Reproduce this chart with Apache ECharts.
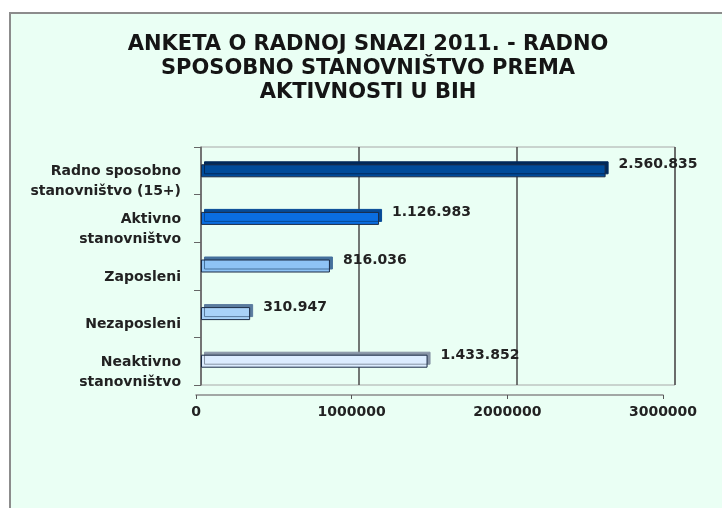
<!DOCTYPE html>
<html>
<head>
<meta charset="utf-8">
<script src="https://cdn.jsdelivr.net/npm/echarts@6/dist/echarts.min.js"></script>
<style>
  html, body { margin: 0; padding: 0; background: #fff; width: 722px; height: 508px; overflow: hidden; position: relative; }
  #frame {
    position: absolute; left: 9px; top: 12px; right: -20px; bottom: -20px;
    background: #eafff4; border-left: 2px solid #8c8c8c; border-top: 2px solid #8c8c8c;
  }
  #chart { position: absolute; left: 0; top: 0; width: 722px; height: 508px; }
</style>
</head>
<body>
<div id="frame"></div>
<div id="chart"></div>
<script>
// podaci
const categories = [
  'Radno sposobno\nstanovništvo (15+)',
  'Aktivno\nstanovništvo',
  'Zaposleni',
  'Nezaposleni',
  'Neaktivno\nstanovništvo'
];
const values = [2560835, 1126983, 816036, 310947, 1433852];
const barColors = ['#004b9a', '#0a6de0', '#8ec3f5', '#a9d2f8', '#dcecff'];
const topColors = ['#00295a', '#064a96', '#45719c', '#5a7b9e', '#8794a6'];
const xTicks = [0, 1000000, 2000000, 3000000];

const fmt = v => String(v).replace(/\B(?=(\d{3})+(?!\d))/g, '.');
const labelFont = { fontFamily: 'DejaVu Sans', fontWeight: 'bold', color: '#222' };

const chart = echarts.init(document.getElementById('chart'));
chart.setOption({
  backgroundColor: 'transparent',
  title: {
    text: 'ANKETA O RADNOJ SNAZI 2011. - RADNO\nSPOSOBNO STANOVNIŠTVO PREMA\nAKTIVNOSTI U BIH',
    left: 368,
    textAlign: 'center',
    top: 28,
    padding: [5, 0, 5, 0],
    textStyle: {
      fontFamily: 'DejaVu Sans', fontWeight: 'bold', fontSize: 21,
      lineHeight: 24, color: '#151515'
    }
  },
  grid: [
    { left: 201, right: 47, top: 147, bottom: 123, show: true,
      borderColor: '#a8a8a8', borderWidth: 1, backgroundColor: 'transparent' },
    { left: 196, right: 59, top: 394, height: 1 }
  ],
  xAxis: [
    {
      gridIndex: 0, type: 'value', min: xTicks[0], max: xTicks[xTicks.length - 1],
      interval: 1000000,
      axisLabel: { show: false }, axisTick: { show: false },
      axisLine: { show: false },
      splitLine: { show: true, lineStyle: { color: '#4a4a4a', width: 1.5 } }
    },
    {
      gridIndex: 1, type: 'value', min: xTicks[0], max: xTicks[xTicks.length - 1],
      interval: 1000000, position: 'bottom',
      axisLine: { show: true, lineStyle: { color: '#8a8a8a', width: 1.5 } },
      axisTick: { show: true, length: 4, lineStyle: { color: '#555' } },
      splitLine: { show: false },
      axisLabel: { ...labelFont, fontSize: 14, margin: 10, formatter: v => String(v) }
    }
  ],
  yAxis: [
    {
      gridIndex: 0, type: 'category', data: categories, inverse: true,
      axisLine: { show: true, lineStyle: { color: '#777', width: 1.5 } },
      axisTick: { show: true, length: 7, lineStyle: { color: '#666' } },
      axisLabel: {
        ...labelFont, fontSize: 14, align: 'right', verticalAlign: 'middle',
        margin: 20, interval: 0, hideOverlap: false,
        // prazan red odozgo spusta tekst ispod sredine trake
        formatter: v => '{gap| }\n' + v.split('\n').map(s => '{t|' + s + '}').join('\n'),
        rich: {
          gap: { fontSize: 2, lineHeight: 22, height: 22 },
          t: { ...labelFont, fontSize: 14, lineHeight: 20, align: 'right' }
        }
      }
    },
    { gridIndex: 1, type: 'value', show: false }
  ],
  series: [
    {
      type: 'bar',
      xAxisIndex: 0, yAxisIndex: 0,
      barWidth: 13,
      data: values.map((v, i) => ({
        value: v,
        itemStyle: {
          color: barColors[i],
          borderColor: '#1b2b45',
          borderWidth: 1,
          shadowColor: topColors[i],
          shadowBlur: 0,
          shadowOffsetX: 3,
          shadowOffsetY: -3
        }
      })),
      label: {
        show: true, position: 'right', distance: 13, offset: [0, -6],
        ...labelFont, fontSize: 14,
        formatter: p => fmt(p.value)
      },
      silent: true
    }
  ]
});
</script>
</body>
</html>
